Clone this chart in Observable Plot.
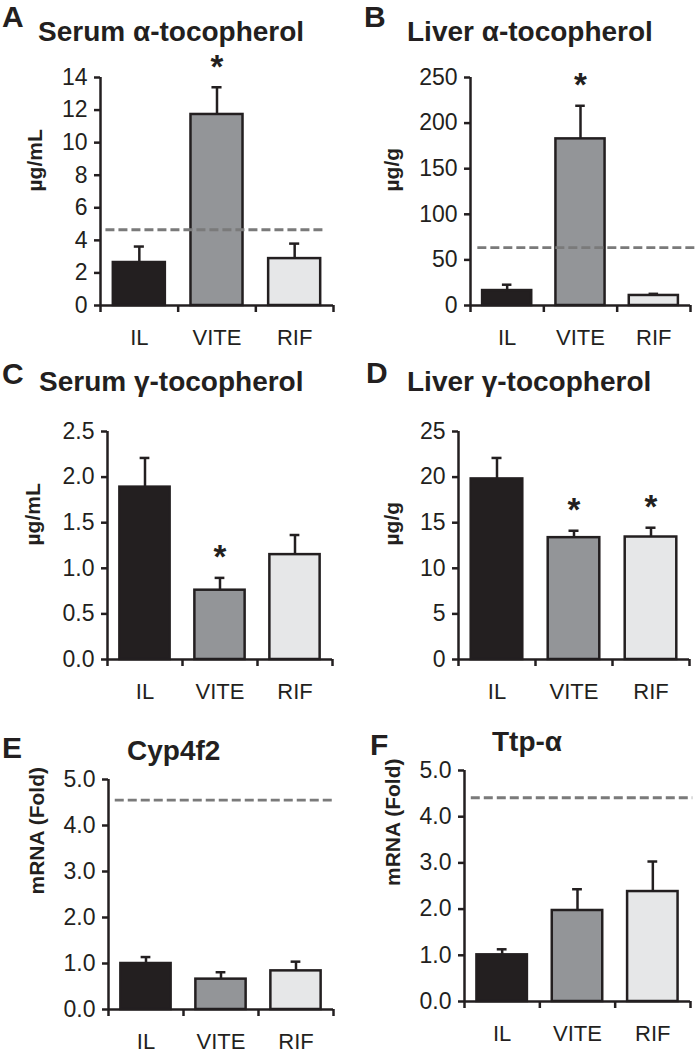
<!DOCTYPE html>
<html>
<head>
<meta charset="utf-8">
<script src="https://cdn.jsdelivr.net/npm/d3@7"></script>
<script src="https://cdn.jsdelivr.net/npm/@observablehq/plot@0.6"></script>
<style>
  html, body { margin: 0; padding: 0; background: #fff; overflow: hidden; }
  #root { position: relative; width: 695px; height: 1055px; font-family: "Liberation Sans", Arial, sans-serif; color: #231f20; }
  .lbl { position: absolute; line-height: 1; font-weight: bold; white-space: nowrap; }
  .pnl { position: absolute; }
</style>
</head>
<body>
<div id="root"></div>
<script>
// ---- data ----
const categories = ["IL", "VITE", "RIF"];

const serumAlphaMean = [2.64, 11.73, 2.88];
const serumAlphaErr  = [0.98, 1.67, 0.92];
const serumAlphaSig  = [false, true, false];
const serumAlphaRef  = 4.65;

const liverAlphaMean = [16.4, 182.7, 11.0];
const liverAlphaErr  = [6.4, 36.3, 1.8];
const liverAlphaSig  = [false, true, false];
const liverAlphaRef  = 63.4;

const serumGammaMean = [1.89, 0.76, 1.15];
const serumGammaErr  = [0.32, 0.135, 0.215];
const serumGammaSig  = [false, true, false];

const liverGammaMean = [19.8, 13.36, 13.43];
const liverGammaErr  = [2.3, 0.76, 1.02];
const liverGammaSig  = [false, true, true];

const cypMean = [1.0, 0.66, 0.84];
const cypErr  = [0.14, 0.15, 0.2];
const cypSig  = [false, false, false];
const cypRef  = 4.55;

const ttpMean = [1.01, 1.97, 2.38];
const ttpErr  = [0.12, 0.46, 0.65];
const ttpSig  = [false, false, false];
const ttpRef  = 4.41;

const ticksA = [0, 2, 4, 6, 8, 10, 12, 14];
const ticksB = [0, 50, 100, 150, 200, 250];
const ticksC = [0, 0.5, 1.0, 1.5, 2.0, 2.5];
const ticksD = [0, 5, 10, 15, 20, 25];
const ticksEF = [0, 1, 2, 3, 4, 5];

// ---- style ----
const ink = "#231f20";
const fills = ["#231f20", "#939598", "#e6e7e8"];
const root = document.getElementById("root");

function label(text, x, baseline, size) {
  const d = document.createElement("div");
  d.className = "lbl";
  d.textContent = text;
  d.style.left = x + "px";
  d.style.top = (baseline - 0.8465 * size) + "px";
  d.style.fontSize = size + "px";
  root.appendChild(d);
}

function panel(cfg) {
  const {left, top, x0, x3, yTop, y0, yMax, yTicks, fmt, mean, err, sig, ref, refX, ylabel, ylabelX} = cfg;
  const marginLeft = x0 - left, marginTop = yTop - top, marginRight = 4, marginBottom = 50;
  const width = x3 - left + marginRight, height = y0 - top + marginBottom;
  const rows = categories.map((c, i) => ({c, i, m: mean[i], e: err[i], s: sig[i], f: fills[i]}));
  const pad = 0.165;
  const marks = [
    Plot.rect(rows, {x1: d => d.i + pad, x2: d => d.i + 1 - pad, y1: 0, y2: d => d.m, fill: d => d.f, stroke: ink, strokeWidth: 2.5}),
    Plot.ruleX(rows, {x: d => d.i + 0.5, y1: d => d.m, y2: d => d.m + d.e, stroke: ink, strokeWidth: 2.5}),
    Plot.ruleY(rows, {y: d => d.m + d.e, x1: d => d.i + 0.5 - 0.065, x2: d => d.i + 0.5 + 0.065, stroke: ink, strokeWidth: 2.5}),
    Plot.text(rows.filter(d => d.s), {x: d => d.i + 0.5, y: d => d.m + d.e, text: () => "*", dy: -20, fontSize: 33, fontWeight: "bold", fill: ink}),
    Plot.ruleX([0], {stroke: ink, strokeWidth: 2.5}),
    Plot.ruleY([0], {stroke: ink, strokeWidth: 2.5}),
    Plot.axisY({ticks: yTicks, tickFormat: () => "", tickSize: 6, stroke: ink, strokeWidth: 2.5, label: null}),
    Plot.text(yTicks, {x: 0, y: d => d, text: d => fmt(d), textAnchor: "end", dx: -13, fontSize: 23, fill: ink}),
    Plot.axisX({ticks: [0, 1, 2, 3], tickSize: 7, tickFormat: () => "", stroke: ink, strokeWidth: 2.5, label: null}),
    Plot.text(rows, {x: d => d.i + 0.5, y: 0, text: d => d.c, lineAnchor: "top", dy: 24, fontSize: 22, fill: ink}),
    Plot.text([ylabel], {frameAnchor: "left", rotate: -90, dx: ylabelX - x0, fontSize: 21, fontWeight: "bold", fill: ink})
  ];
  if (ref != null) {
    marks.splice(4, 0, Plot.ruleY([ref], {x1: refX[0], x2: refX[1], stroke: "#7a7a7a", strokeWidth: 2.8, strokeDasharray: "9,4"}));
  }
  const svg = Plot.plot({
    width, height, marginLeft, marginTop, marginRight, marginBottom,
    x: {domain: [0, 3]},
    y: {domain: [0, yMax]},
    style: {background: "transparent", overflow: "visible", fontFamily: "'Liberation Sans', Arial, sans-serif", fontSize: "21px", color: ink},
    marks
  });
  svg.classList.add("pnl");
  svg.style.left = left + "px";
  svg.style.top = top + "px";
  root.appendChild(svg);
}

const f1 = d3.format(".1f");
const f0 = d3.format("d");

panel({left: 0, top: 55, x0: 100, x3: 333, yTop: 77, y0: 305, yMax: 14, yTicks: ticksA, fmt: f0,
  mean: serumAlphaMean, err: serumAlphaErr, sig: serumAlphaSig, ref: serumAlphaRef, refX: [0.07, 2.87], ylabel: "µg/mL", ylabelX: 35});
panel({left: 345, top: 55, x0: 470, x3: 690, yTop: 77, y0: 305, yMax: 250, yTicks: ticksB, fmt: f0,
  mean: liverAlphaMean, err: liverAlphaErr, sig: liverAlphaSig, ref: liverAlphaRef, refX: [0.1, 3.07], ylabel: "µg/g", ylabelX: 392});
panel({left: 0, top: 410, x0: 107, x3: 332, yTop: 431, y0: 659, yMax: 2.5, yTicks: ticksC, fmt: f1,
  mean: serumGammaMean, err: serumGammaErr, sig: serumGammaSig, ref: null, ylabel: "µg/mL", ylabelX: 33});
panel({left: 345, top: 410, x0: 458, x3: 689, yTop: 431, y0: 659, yMax: 25, yTicks: ticksD, fmt: f0,
  mean: liverGammaMean, err: liverGammaErr, sig: liverGammaSig, ref: null, ylabel: "µg/g", ylabelX: 392});
panel({left: 0, top: 765, x0: 108, x3: 333, yTop: 779, y0: 1009, yMax: 5, yTicks: ticksEF, fmt: f1,
  mean: cypMean, err: cypErr, sig: cypSig, ref: cypRef, refX: [0.09, 2.99], ylabel: "mRNA (Fold)", ylabelX: 37});
panel({left: 345, top: 765, x0: 464, x3: 690, yTop: 770, y0: 1001, yMax: 5, yTicks: ticksEF, fmt: f1,
  mean: ttpMean, err: ttpErr, sig: ttpSig, ref: ttpRef, refX: [0.09, 3.03], ylabel: "mRNA (Fold)", ylabelX: 393});

label("A", 2, 27, 30);
label("Serum α-tocopherol", 38, 42, 28);
label("B", 364, 27, 30);
label("Liver α-tocopherol", 407, 42, 28);
label("C", 2, 384, 30);
label("Serum γ-tocopherol", 39, 392, 28);
label("D", 366, 383, 30);
label("Liver γ-tocopherol", 407, 392, 28);
label("E", 2, 758, 30);
label("Cyp4f2", 127, 761, 28);
label("F", 370, 755, 30);
label("Ttp-α", 492, 752, 28);
</script>
</body>
</html>
